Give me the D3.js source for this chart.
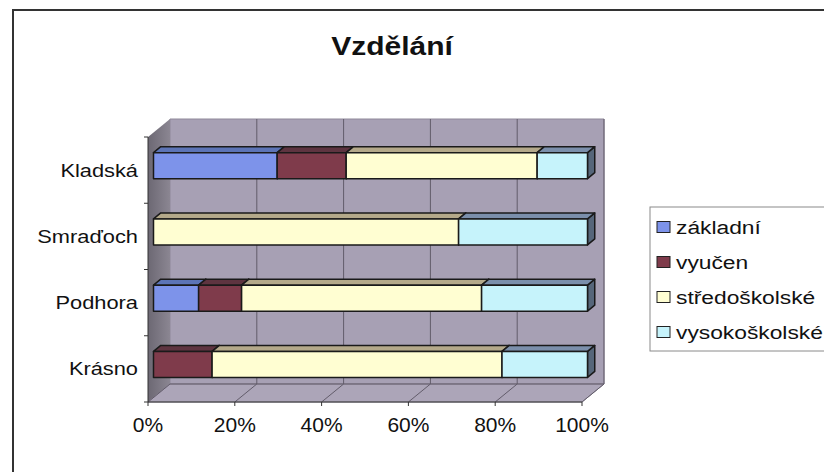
<!DOCTYPE html>
<html>
<head>
<meta charset="utf-8">
<script src="https://cdn.jsdelivr.net/npm/d3@7"></script>
<style>
  html, body { margin: 0; padding: 0; background: #fff; }
  svg { display: block; }
  text { font-family: "Liberation Sans", Arial, sans-serif; fill: #111; }
</style>
</head>
<body>
<svg id="chart" width="824" height="472"></svg>
<script>
// Education structure by locality (shares in %, each row sums to 100)
const categories = ["Kladská", "Smraďoch", "Podhora", "Krásno"];
const seriesNames = ["základní", "vyučen", "středoškolské", "vysokoškolské"];
const zakladni      = [28.5, 0,    10.4, 0];
const vyucen        = [15.9, 0,    9.9,  13.5];
const stredoskolske = [44.0, 70.3, 55.3, 66.8];
const vysokoskolske = [11.6, 29.7, 24.4, 19.7];
const tickValues = [0, 20, 40, 60, 80, 100];
const tickLabels = ["0%", "20%", "40%", "60%", "80%", "100%"];

const seriesValues = [zakladni, vyucen, stredoskolske, vysokoskolske];
const faceColors = [
  { front: "#7d93ea", top: "#5c74b6", side: "#4e5f90" },
  { front: "#7f3b4b", top: "#5e3440", side: "#4a2a33" },
  { front: "#fffed2", top: "#b4a98a", side: "#8d8670" },
  { front: "#c6f3fb", top: "#7b8fab", side: "#56667a" }
];

const svg = d3.select("#chart");

// outer chart frame
svg.append("rect")
  .attr("x", 13).attr("y", 10).attr("width", 830).attr("height", 480)
  .attr("fill", "#fff").attr("stroke", "#333").attr("stroke-width", 2);

// title
svg.append("text")
  .attr("transform", "translate(392,55) scale(1.2,1)")
  .attr("text-anchor", "middle")
  .attr("font-size", 25).attr("font-weight", "bold")
  .text("Vzdělání");

// 3D plot geometry: front plane and depth vector
const x = d3.scaleLinear().domain([0, 100]).range([148, 582]);
const y = d3.scaleBand().domain(categories).range([137, 402]);
const DX = 22, DY = -18;
const yTop = 137, yBot = 402;
const pt = (px, py, d) => [px + d * DX, py + d * DY];
const poly = pts => "M" + pts.map(p => p.join(",")).join("L") + "Z";

const defs = svg.append("defs");
const lw = defs.append("linearGradient").attr("id", "leftWall")
  .attr("x1", "0").attr("y1", "0").attr("x2", "1").attr("y2", "0");
lw.append("stop").attr("offset", "0").attr("stop-color", "#6c6873");
lw.append("stop").attr("offset", "1").attr("stop-color", "#8b8692");

const walls = svg.append("g");
// back wall
walls.append("path")
  .attr("d", poly([pt(x(0), yTop, 1), pt(x(100), yTop, 1), pt(x(100), yBot, 1), pt(x(0), yBot, 1)]))
  .attr("fill", "#a7a0b4").attr("stroke", "#8f8899").attr("stroke-width", 1);
// left wall
walls.append("path")
  .attr("d", poly([pt(x(0), yTop, 0), pt(x(0), yTop, 1), pt(x(0), yBot, 1), pt(x(0), yBot, 0)]))
  .attr("fill", "url(#leftWall)");
// floor
walls.append("path")
  .attr("d", poly([pt(x(0), yBot, 0), pt(x(0), yBot, 1), pt(x(100), yBot, 1), pt(x(100), yBot, 0)]))
  .attr("fill", "#aca5b8").attr("stroke", "#8f8899").attr("stroke-width", 1);

// gridlines on back wall and floor
const grid = svg.append("g").attr("stroke", "#625c6a").attr("stroke-width", 1).attr("fill", "none");
tickValues.forEach(v => {
  if (v > 0) {
    const a = pt(x(v), yTop, 1), b = pt(x(v), yBot, 1);
    grid.append("line").attr("x1", a[0]).attr("y1", a[1]).attr("x2", b[0]).attr("y2", b[1]);
  }
  const c = pt(x(v), yBot, 0), e = pt(x(v), yBot, 1);
  grid.append("line").attr("x1", c[0]).attr("y1", c[1]).attr("x2", e[0]).attr("y2", e[1]);
});
grid.append("line")
  .attr("x1", pt(x(0), yBot, 1)[0]).attr("y1", pt(x(0), yBot, 1)[1])
  .attr("x2", pt(x(100), yBot, 1)[0]).attr("y2", pt(x(100), yBot, 1)[1]);

// axes on the front plane
const axisG = svg.append("g").attr("stroke", "#333").attr("stroke-width", 1);
axisG.append("line").attr("x1", x(0)).attr("y1", yBot).attr("x2", x(100)).attr("y2", yBot);
axisG.append("line").attr("x1", x(0)).attr("y1", yTop).attr("x2", x(0)).attr("y2", yBot);
tickValues.forEach(v => {
  axisG.append("line").attr("x1", x(v)).attr("y1", yBot).attr("x2", x(v)).attr("y2", yBot + 4);
});
const bandEdges = categories.map(c => y(c)).concat([yBot]);
bandEdges.forEach(b => {
  axisG.append("line").attr("x1", x(0) - 4).attr("y1", b).attr("x2", x(0)).attr("y2", b);
});

// x tick labels
svg.append("g").selectAll("text").data(tickValues).join("text")
  .attr("transform", v => `translate(${x(v)},432) scale(1.05,1)`)
  .attr("text-anchor", "middle").attr("font-size", 20)
  .text((v, i) => tickLabels[i]);

// category labels
svg.append("g").selectAll("text").data(categories).join("text")
  .attr("transform", c => `translate(138,${y(c) + y.bandwidth() / 2 + 6.5}) scale(1.18,1)`)
  .attr("text-anchor", "end").attr("font-size", 18.5)
  .text(c => c);

// stacked 3D bars
const stackData = categories.map((c, i) => {
  const row = { cat: c };
  seriesNames.forEach((s, k) => { row[s] = seriesValues[k][i]; });
  return row;
});
const stacked = d3.stack().keys(seriesNames)(stackData);
const D1 = 0.25, D2 = 0.58, BAR_H = 26;
const barsG = svg.append("g").attr("stroke", "#1a1a1a").attr("stroke-width", 1.5).attr("stroke-linejoin", "round");
categories.forEach((c, i) => {
  const cy = y(c) + y.bandwidth() / 2;
  const t = cy - BAR_H / 2, b = cy + BAR_H / 2;
  stacked.forEach((layer, k) => {
    const [v0, v1] = layer[i];
    if (v1 - v0 <= 0) return;
    const col = faceColors[k];
    const x0 = x(v0), x1 = x(v1);
    // side face
    barsG.append("path")
      .attr("d", poly([pt(x1, t, D1), pt(x1, t, D2), pt(x1, b, D2), pt(x1, b, D1)]))
      .attr("fill", col.side);
    // top face
    barsG.append("path")
      .attr("d", poly([pt(x0, t, D1), pt(x0, t, D2), pt(x1, t, D2), pt(x1, t, D1)]))
      .attr("fill", col.top);
    // front face
    barsG.append("path")
      .attr("d", poly([pt(x0, t, D1), pt(x1, t, D1), pt(x1, b, D1), pt(x0, b, D1)]))
      .attr("fill", col.front);
  });
});

// legend
const legend = svg.append("g");
legend.append("rect")
  .attr("x", 650).attr("y", 207).attr("width", 190).attr("height", 144)
  .attr("fill", "#fff").attr("stroke", "#8a8a8a").attr("stroke-width", 1);
const legendY = [227, 262, 297, 332];
seriesNames.forEach((s, k) => {
  legend.append("rect")
    .attr("x", 657).attr("y", legendY[k] - 5.5).attr("width", 13).attr("height", 11)
    .attr("fill", faceColors[k].front).attr("stroke", "#222").attr("stroke-width", 1);
  legend.append("text")
    .attr("transform", `translate(676,${legendY[k] + 6.5}) scale(1.2,1)`)
    .attr("font-size", 19)
    .text(s);
});
</script>
</body>
</html>
